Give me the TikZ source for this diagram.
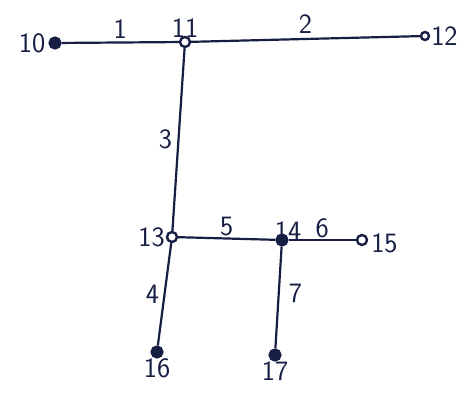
\documentclass[tikz,border=0pt]{standalone}
\usepackage{fontspec}
\usepackage{tikz}
\usetikzlibrary{positioning}

\definecolor{ink}{RGB}{22,30,68}

\begin{document}
\begin{tikzpicture}[
  x=1pt, y=-1pt, line width=2.2pt, draw=ink,
  every label/.style = {text=ink, font=\sffamily\fontsize{28}{30}\selectfont, inner sep=2pt},
  vfull/.style  = {circle, draw=ink, fill=ink, inner sep=0pt, minimum size=11pt},
  vopen/.style  = {circle, draw=ink, fill=white, line width=2.4pt, inner sep=0pt, minimum size=10pt},
  elab/.style   = {text=ink, font=\sffamily\fontsize{28}{30}\selectfont},
]
  \useasboundingbox (0,0) rectangle (472,396);

  \node[vfull, label={left:10}]               (n10) at (55,43)   {};
  \node[vopen, label={[yshift=-5pt]above:11}] (n11) at (185,42)  {};
  \node[vopen, minimum size=8pt, label={[xshift=-2pt]right:12}] (n12) at (425,36) {};
  \node[vopen, label={[xshift=2pt]left:13}]   (n13) at (172,237) {};
  \node[vfull, label={[xshift=6pt,yshift=-10pt]above:14}] (n14) at (282,240) {};
  \node[vopen, label={[yshift=-3pt]right:15}] (n15) at (362,240) {};
  \node[vfull, label={[yshift=3pt]below:16}]  (n16) at (157,352) {};
  \node[vfull, label={[yshift=3pt]below:17}]  (n17) at (275,355) {};

  % edges, numbered 1..7
  \draw (n10) -- node[elab, above=0pt] {1} (n11);
  \draw (n11) -- node[elab, above=1pt] {2} (n12);
  \draw (n11) -- node[elab, left=2pt]  {3} (n13);
  \draw (n13) -- node[elab, left=1pt]  {4} (n16);
  \draw (n13) -- node[elab, above=-2pt] {5} (n14);
  \draw (n14) -- node[elab, above=-2pt] {6} (n15);
  \draw (n14) -- node[elab, right=6pt, yshift=4pt] {7} (n17);
\end{tikzpicture}
\end{document}
